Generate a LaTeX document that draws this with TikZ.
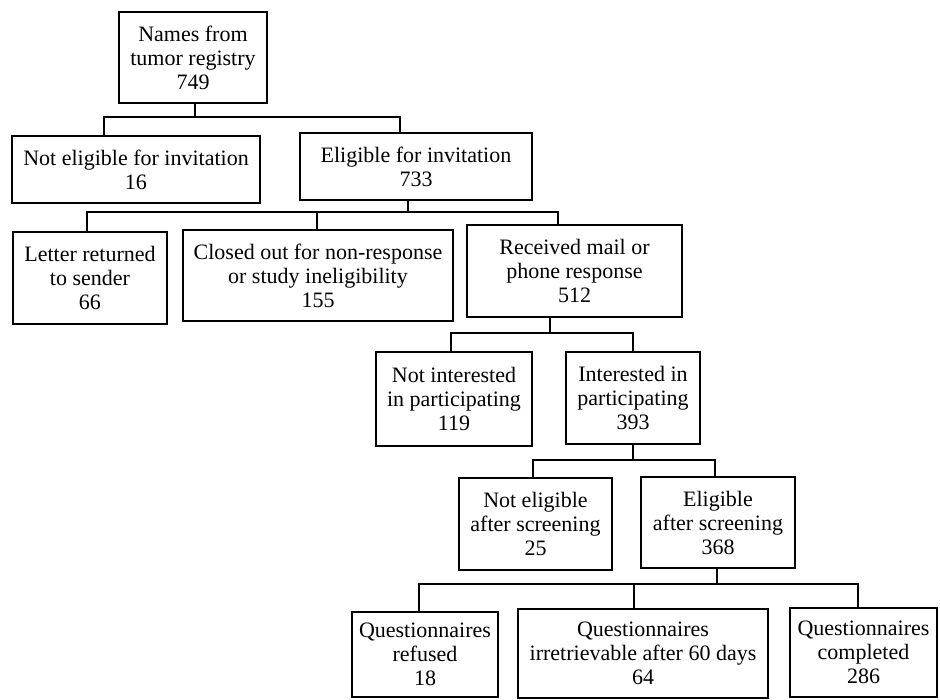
\documentclass[tikz,border=0pt]{standalone}
\usepackage{fontspec}
\setmainfont{Liberation Serif}
\begin{document}
\begin{tikzpicture}[x=1pt,y=-1pt,
  box/.style={draw, line width=1.1pt, align=center, inner sep=1pt,
              font=\fontsize{22}{24}\selectfont},
  link/.style={line width=1.1pt}]
\useasboundingbox (0,0) rectangle (940,700);

% nodes
\node[box, minimum width=148pt, minimum height=91pt] (A) at (193,57.5) {Names from\\tumor registry\\749};
\node[box, minimum width=248pt, minimum height=67pt] (B) at (136,169.5) {Not eligible for invitation\\16};
\node[box, minimum width=232pt, minimum height=67pt] (C) at (416,166.5) {Eligible for invitation\\733};
\node[box, minimum width=154pt, minimum height=92pt] (D) at (90,278) {Letter returned\\to sender\\66};
\node[box, minimum width=270pt, minimum height=91pt] (E) at (318,275.5) {Closed out for non-response\\or study ineligibility\\155};
\node[box, minimum width=215pt, minimum height=92pt] (F) at (574.5,271) {Received mail or\\phone response\\512};
\node[box, minimum width=156pt, minimum height=94pt] (G) at (454,399) {Not interested\\in participating\\119};
\node[box, minimum width=134pt, minimum height=92pt] (H) at (633,398) {Interested in\\participating\\393};
\node[box, minimum width=153pt, minimum height=92pt] (I) at (535.5,524) {Not eligible\\after screening\\25};
\node[box, minimum width=154pt, minimum height=91pt] (J) at (718,522.5) {Eligible\\after screening\\368};
\node[box, minimum width=146pt, minimum height=85pt] (K) at (425,654.5) {Questionnaires\\refused\\18};
\node[box, minimum width=250pt, minimum height=89pt] (L) at (643,653.5) {Questionnaires\\irretrievable after 60 days\\64};
\node[box, minimum width=147pt, minimum height=89pt] (M) at (863.5,652.5) {Questionnaires\\completed\\286};

% bus points
\coordinate (jA) at (195,117);
\coordinate (dB) at (104,117);
\coordinate (dC) at (400,117);

\coordinate (jC) at (408,212);
\coordinate (dD) at (87,212);
\coordinate (dE) at (317,212);
\coordinate (dF) at (558,212);

\coordinate (jF) at (550,333);
\coordinate (dG) at (451,333);
\coordinate (dH) at (633,333);

\coordinate (jH) at (633,460);
\coordinate (dI) at (533,460);
\coordinate (dJ) at (715,460);

\coordinate (jJ) at (717,584);
\coordinate (dK) at (419,584);
\coordinate (dL) at (634,584);
\coordinate (dM) at (858,584);

% connectors
\draw[link] (A.south -| jA) -- (jA);
\draw[link] (B.north -| dB) -- (dB) -- (dC) -- (C.north -| dC);

\draw[link] (C.south -| jC) -- (jC);
\draw[link] (D.north -| dD) -- (dD) -- (dF) -- (F.north -| dF);
\draw[link] (E.north -| dE) -- (dE);

\draw[link] (F.south -| jF) -- (jF);
\draw[link] (G.north -| dG) -- (dG) -- (dH) -- (H.north -| dH);

\draw[link] (H.south -| jH) -- (jH);
\draw[link] (I.north -| dI) -- (dI) -- (dJ) -- (J.north -| dJ);

\draw[link] (J.south -| jJ) -- (jJ);
\draw[link] (K.north -| dK) -- (dK) -- (dM) -- (M.north -| dM);
\draw[link] (L.north -| dL) -- (dL);
\end{tikzpicture}
\end{document}
